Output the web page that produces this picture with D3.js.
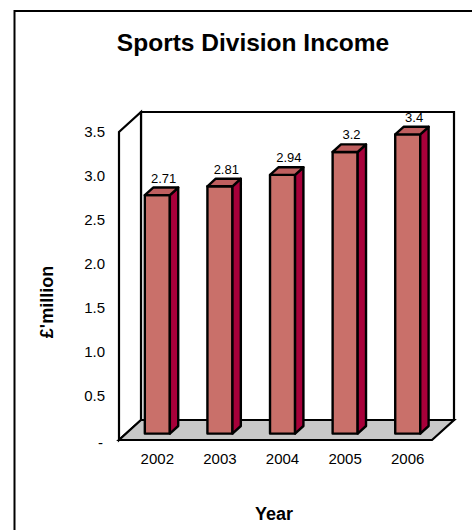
<!DOCTYPE html>
<html>
<head>
<meta charset="utf-8">
<script src="https://cdn.jsdelivr.net/npm/d3@7"></script>
<style>
  html, body { margin: 0; padding: 0; background: #fff; }
  svg { display: block; font-family: "Liberation Sans", Arial, sans-serif; }
</style>
</head>
<body>
<svg id="chart" width="472" height="530"></svg>
<script>
// Sports Division income by year (£ million)
const years = ["2002", "2003", "2004", "2005", "2006"];
const income = [2.71, 2.81, 2.94, 3.2, 3.4];
const yTicks = [0, 0.5, 1.0, 1.5, 2.0, 2.5, 3.0, 3.5];

const svg = d3.select("#chart");

// Front plane of the 3D box
const left = 119, right = 432, bottom = 440;
const x = d3.scaleBand().domain(years).range([left, right]).padding(0);
const y = d3.scaleLinear().domain([0, 3.5]).range([bottom, 132]);

// Oblique depth: full depth shifts right and up
const DX = 22, DY = -20;
const proj = (px, py, d) => [px + d * DX, py + d * DY];
const pts = arr => arr.map(p => p.join(",")).join(" ");

// Outer chart frame
svg.append("rect")
  .attr("x", 14.5).attr("y", 11).attr("width", 480).attr("height", 540)
  .attr("fill", "#fff").attr("stroke", "#000").attr("stroke-width", 2);

const yTop = y(3.5);

// Back wall
svg.append("polygon")
  .attr("points", pts([proj(left, yTop, 1), proj(right, yTop, 1), proj(right, bottom, 1), proj(left, bottom, 1)]))
  .attr("fill", "#fff").attr("stroke", "#000").attr("stroke-width", 2.2).attr("stroke-linejoin", "miter");

// Side wall
svg.append("polygon")
  .attr("points", pts([proj(left, bottom, 0), proj(left, yTop, 0), proj(left, yTop, 1), proj(left, bottom, 1)]))
  .attr("fill", "#fff").attr("stroke", "#000").attr("stroke-width", 2.2);

// Floor
svg.append("polygon")
  .attr("points", pts([proj(left, bottom, 0), proj(right, bottom, 0), proj(right, bottom, 1), proj(left, bottom, 1)]))
  .attr("fill", "#c8c8c8").attr("stroke", "#000").attr("stroke-width", 2.2);

// Bars
const barW = x.bandwidth() * 0.4;
const d0 = 0.32, d1 = 0.7;
const bars = svg.append("g").selectAll("g").data(years.map((k, i) => ({ k, v: income[i] })))
  .join("g");

bars.each(function (d) {
  const g = d3.select(this);
  const x0 = x(d.k) + (x.bandwidth() - barW) / 2;
  const x1 = x0 + barW;
  const yt = y(d.v), yb = y(0);
  // front face
  g.append("polygon")
    .attr("points", pts([proj(x0, yb, d0), proj(x1, yb, d0), proj(x1, yt, d0), proj(x0, yt, d0)]))
    .attr("fill", "#c9706a").attr("stroke", "#000").attr("stroke-width", 2.4).attr("stroke-linejoin", "round");
  // right side
  g.append("polygon")
    .attr("points", pts([proj(x1, yb, d0), proj(x1, yb, d1), proj(x1, yt, d1), proj(x1, yt, d0)]))
    .attr("fill", "#a8003a").attr("stroke", "#000").attr("stroke-width", 2.4).attr("stroke-linejoin", "round");
  // top
  g.append("polygon")
    .attr("points", pts([proj(x0, yt, d0), proj(x1, yt, d0), proj(x1, yt, d1), proj(x0, yt, d1)]))
    .attr("fill", "#bf5f5f").attr("stroke", "#000").attr("stroke-width", 2.4).attr("stroke-linejoin", "round");
  // value label
  const [lx, ly] = proj(x0 + barW / 2, yt, d1);
  g.append("text")
    .attr("x", lx - 2).attr("y", ly - 5)
    .attr("text-anchor", "middle")
    .attr("font-size", 13)
    .attr("fill", "#000")
    .text(d.v);
});

// Y axis tick labels
const yAxis = d3.axisLeft(y).tickValues(yTicks).tickSize(0).tickPadding(0)
  .tickFormat(v => v === 0 ? "-" : d3.format(".1f")(v));
const gy = svg.append("g").attr("transform", "translate(105,0)").call(yAxis);
gy.select(".domain").remove();
gy.selectAll("text").attr("font-size", 15).attr("font-family", "Liberation Sans, Arial, sans-serif").attr("fill", "#000");
gy.selectAll(".tick").filter(v => v === 0).select("text").attr("x", -2).attr("dy", "0.5em");

// X axis labels
const xAxis = d3.axisBottom(x).tickSize(0).tickPadding(13);
const gx = svg.append("g").attr("transform", `translate(7,${bottom})`).call(xAxis);
gx.select(".domain").remove();
gx.selectAll("text").attr("font-size", 15).attr("font-family", "Liberation Sans, Arial, sans-serif").attr("fill", "#000");

// Titles
svg.append("text")
  .attr("x", 253).attr("y", 51).attr("text-anchor", "middle")
  .attr("font-size", 24.5).attr("font-weight", "bold")
  .text("Sports Division Income");

svg.append("text")
  .attr("x", 274).attr("y", 520).attr("text-anchor", "middle")
  .attr("font-size", 18).attr("font-weight", "bold")
  .text("Year");

svg.append("text")
  .attr("transform", "translate(53,302) rotate(-90)")
  .attr("text-anchor", "middle")
  .attr("font-size", 18).attr("font-weight", "bold")
  .text("£'million");
</script>
</body>
</html>
